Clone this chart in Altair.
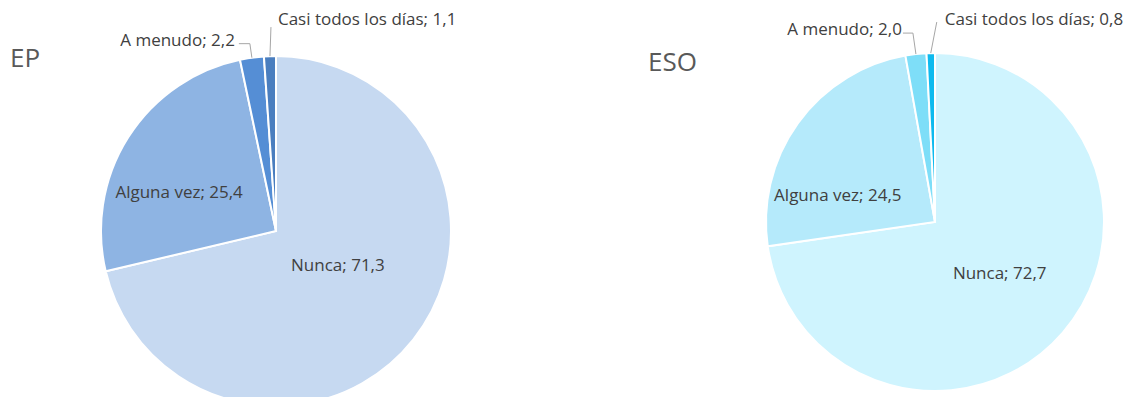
import math
import altair as alt
import pandas as pd

# ---------------- data ----------------
CATEGORIES = ["Nunca", "Alguna vez", "A menudo", "Casi todos los días"]
EP_VALUES = [71.3, 25.4, 2.2, 1.1]
ESO_VALUES = [72.7, 24.5, 2.0, 0.8]
PIE_NAMES = ["EP", "ESO"]

# ---------------- styles ----------------
EP_COLORS = ["#C6D9F1", "#8EB4E3", "#558ED5", "#4A7EBF"]
ESO_COLORS = ["#CFF4FE", "#B5EAFB", "#7EDEF8", "#0EBAEE"]
FONT = "Open Sans"
TEXT_COLOR = "#404040"
LINE_COLOR = "#A6A6A6"

# pie geometry (plot-area pixels)
PIE_GEOM = {
    "EP": dict(cx=268, cy=223, r=175, tx=2, ty=51),
    "ESO": dict(cx=927, cy=214, r=169, tx=640, ty=55),
}
# label placement: (radius, dx, dy, align)
LABEL_STYLE = {
    "EP": {
        "Nunca": (70, 7, -8, "center"),
        "Alguna vez": (110, -4, 21, "center"),
        "A menudo": (175, -17, -17, "right"),
        "Casi todos los días": (175, 8, -36, "left"),
    },
    "ESO": {
        "Nunca": (75, 8, 3, "center"),
        "Alguna vez": (110, -8, 38, "center"),
        "A menudo": (169, -14, -24, "right"),
        "Casi todos los días": (169, 14, -33, "left"),
    },
}
# leader lines: (elbow dx, elbow dy, horizontal length)
LEADERS = {
    "EP": {"A menudo": (-2, -14, -11), "Casi todos los días": (1, -29, 0)},
    "ESO": {"A menudo": (-3, -21, -10), "Casi todos los días": (6, -31, 0)},
}


def fmt(v):
    return f"{v:.1f}".replace(".", ",")


def make_df(name, values):
    return pd.DataFrame({
        "cat": CATEGORIES,
        "value": values,
        "order": list(range(len(CATEGORIES))),
        "key": [f"{name}|{c}" for c in CATEGORIES],
        "label": [f"{c}; {fmt(v)}" for c, v in zip(CATEGORIES, values)],
    })


color_domain = [f"EP|{c}" for c in CATEGORIES] + [f"ESO|{c}" for c in CATEGORIES]
color_scale = alt.Scale(domain=color_domain, range=EP_COLORS + ESO_COLORS)
theta_scale = alt.Scale(domain=[0, 100], range=[0, 2 * math.pi])

layers = []
for name, values in zip(PIE_NAMES, [EP_VALUES, ESO_VALUES]):
    g = PIE_GEOM[name]
    df = make_df(name, values)
    base = (
        alt.Chart(df)
        .transform_stack(stack="value", groupby=[], as_=["v0", "v1"],
                         sort=[alt.SortField("order", order="ascending")])
        .transform_calculate(mid="(datum.v0 + datum.v1) / 2")
    )
    arcs = base.mark_arc(outerRadius=g["r"], stroke="white", strokeWidth=2).encode(
        theta=alt.Theta("v0:Q", scale=theta_scale),
        theta2="v1:Q",
        color=alt.Color("key:N", scale=color_scale, legend=None),
        x=alt.value(g["cx"]),
        y=alt.value(g["cy"]),
    )
    layers.append(arcs)

    # leader lines
    for cat, (ex, ey, hx) in LEADERS[name].items():
        seg = base.transform_filter(alt.datum.cat == cat).transform_calculate(
            ax=f"{g['cx']} + {g['r']} * sin(datum.mid / 100 * 2 * PI)",
            ay=f"{g['cy']} - {g['r']} * cos(datum.mid / 100 * 2 * PI)",
        ).transform_calculate(
            bx=f"datum.ax + {ex}", by=f"datum.ay + {ey}"
        ).transform_calculate(
            cx2=f"datum.bx + {hx}"
        )
        layers.append(
            seg.mark_rule(color=LINE_COLOR, strokeWidth=1).encode(
                x=alt.X("ax:Q", scale=None), y=alt.Y("ay:Q", scale=None),
                x2="bx:Q", y2="by:Q",
            )
        )
        if hx != 0:
            layers.append(
                seg.mark_rule(color=LINE_COLOR, strokeWidth=1).encode(
                    x=alt.X("bx:Q", scale=None), y=alt.Y("by:Q", scale=None),
                    x2="cx2:Q", y2="by:Q",
                )
            )

    # labels
    for cat, (rad, dx, dy, align) in LABEL_STYLE[name].items():
        layers.append(
            base.transform_filter(alt.datum.cat == cat)
            .mark_text(radius=rad, dx=dx, dy=dy, align=align, baseline="middle",
                       font=FONT, fontSize=17, color=TEXT_COLOR)
            .encode(
                theta=alt.Theta("mid:Q", scale=theta_scale),
                text="label:N",
                x=alt.value(g["cx"]),
                y=alt.value(g["cy"]),
            )
        )

    # pie title
    layers.append(
        alt.Chart(pd.DataFrame({"t": [name]}))
        .mark_text(align="left", baseline="middle", font=FONT, fontSize=26,
                   color="#595959")
        .encode(text="t:N", x=alt.value(g["tx"]), y=alt.value(g["ty"]))
    )

chart = (
    alt.layer(*layers)
    .properties(width=1127, height=389, padding=0, autosize="none")
    .configure_view(stroke=None)
)

chart.save("out.html", embed_options={"renderer": "svg", "actions": False})
